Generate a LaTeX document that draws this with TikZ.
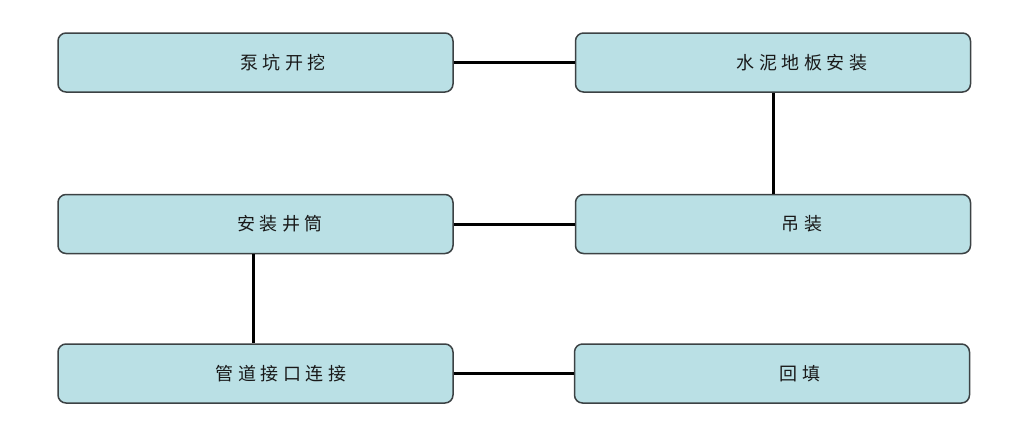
\documentclass[tikz,border=0pt]{standalone}
\usepackage{fontspec}
\newfontfamily\cjk[LetterSpace=25]{Noto Sans CJK SC}
\definecolor{boxfill}{RGB}{186,224,229}
\definecolor{boxline}{RGB}{60,66,68}
\begin{document}
\begin{tikzpicture}[x=1pt,y=-1pt,
  stepbox/.style={draw=boxline,line width=1.5pt,fill=boxfill,rounded corners=8pt,
    minimum width=395pt,minimum height=59pt,inner sep=0pt},
  lbl/.style={font=\cjk\fontsize{18pt}{21pt}\selectfont,text=black!90},
  link/.style={line width=3pt,draw=black}]
\useasboundingbox (0,0) rectangle (1027,432);
\node[stepbox] (a) at (255.5,62.5) {};
\node[stepbox] (b) at (773,62.5) {};
\node[stepbox] (d) at (255.5,224) {};
\node[stepbox] (c) at (773,224) {};
\node[stepbox] (e) at (255.5,373.5) {};
\node[stepbox] (f) at (772,373.5) {};
\node[lbl] (ta) at (283,62.5) {泵坑开挖};
\node[lbl] (tb) at (802,62.5) {水泥地板安装};
\node[lbl] (tc) at (802,224) {吊装};
\node[lbl] (td) at (280,224) {安装井筒};
\node[lbl] (te) at (281,373.5) {管道接口连接};
\node[lbl] (tf) at (800,373.5) {回填};
\draw[link] (a.east) -- (b.west);
\draw[link] (b.south) -- (c.north);
\draw[link] (c.west) -- (d.east);
\draw[link] ([xshift=-2.5pt]d.south) -- ([xshift=-2.5pt]e.north);
\draw[link] (e.east) -- (f.west);
\end{tikzpicture}
\end{document}
